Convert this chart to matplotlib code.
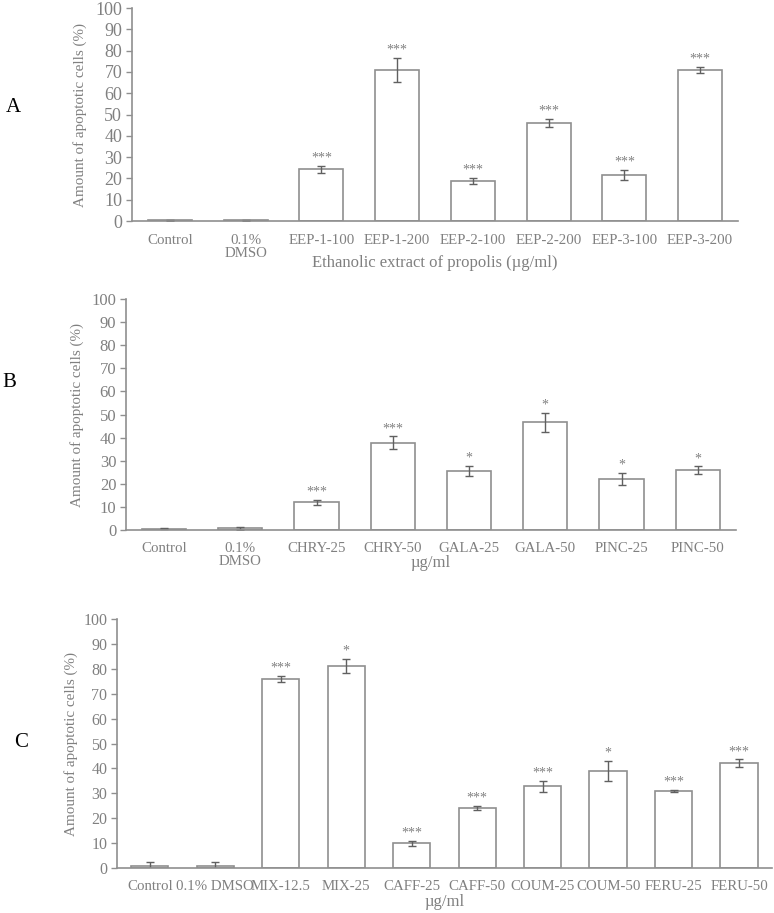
"""
Apoptotic cell fractions for propolis extracts and compounds (three panels).
"""

import matplotlib
matplotlib.use("Agg")
import matplotlib.pyplot as plt

plt.rcParams["font.family"] = ["Liberation Serif", "DejaVu Serif"]

TEXT = "#808080"
EDGE = "#8f8f8f"
ERR = "#606060"

# panel A: ethanolic extracts of propolis
cats_a = ["Control", "0.1%\nDMSO", "EEP-1-100", "EEP-1-200", "EEP-2-100",
          "EEP-2-200", "EEP-3-100", "EEP-3-200"]
vals_a = [0.4, 0.3, 24.3, 71.0, 18.8, 46.0, 21.6, 71.0]
errs_a = [0.3, 0.2, 1.7, 5.6, 1.6, 1.7, 2.3, 1.3]
stars_a = ["", "", "***", "***", "***", "***", "***", "***"]

# panel B: flavonoids
cats_b = ["Control", "0.1%\nDMSO", "CHRY-25", "CHRY-50", "GALA-25",
          "GALA-50", "PINC-25", "PINC-50"]
vals_b = [0.6, 0.7, 12.0, 37.8, 25.4, 46.6, 21.9, 25.8]
errs_b = [0.2, 0.5, 1.2, 2.7, 2.2, 4.0, 2.6, 1.7]
stars_b = ["", "", "***", "***", "*", "*", "*", "*"]

# panel C: phenolic acids and mixture
cats_c = ["Control", "0.1% DMSO", "MIX-12.5", "MIX-25", "CAFF-25", "CAFF-50",
          "COUM-25", "COUM-50", "FERU-25", "FERU-50"]
vals_c = [0.8, 0.8, 76.0, 81.1, 9.9, 24.0, 32.9, 39.0, 30.9, 42.0]
errs_c = [1.7, 1.5, 1.2, 2.8, 1.1, 0.9, 2.2, 4.0, 0.3, 1.6]
stars_c = ["", "", "***", "*", "***", "***", "***", "*", "***", "***"]


def draw_panel(ax, cats, vals, errs, stars, xlabel, label_y,
               width=0.58, ytick_size=12.5, xlabel_size=12, ylabel_pad=4):
    x = range(len(cats))
    ax.bar(x, vals, width=width, color="white", edgecolor=EDGE, linewidth=1.2)
    ax.errorbar(x, vals, yerr=errs, fmt="none", ecolor=ERR, elinewidth=1,
                capsize=3, capthick=1)
    for xi, v, e, s in zip(x, vals, errs, stars):
        if s:
            ax.annotate(s, (xi, v + e), xytext=(0, 1), textcoords="offset points",
                        ha="center", va="bottom", fontsize=10, color=TEXT)
    ax.set_xlim(-0.5, len(cats) - 0.5)
    ax.set_ylim(0, 100)
    ax.set_yticks(range(0, 101, 10))
    ax.set_xticks(list(x))
    ax.set_xticklabels(cats, fontsize=10.7, color=TEXT, linespacing=1.0)
    ax.tick_params(axis="x", length=0, pad=9)
    ax.tick_params(axis="y", length=4, width=1, color=EDGE,
                   labelsize=ytick_size, labelcolor=TEXT, pad=3)
    for side in ("top", "right"):
        ax.spines[side].set_visible(False)
    for side in ("left", "bottom"):
        ax.spines[side].set_color(EDGE)
        ax.spines[side].set_linewidth(1.2)
    ax.set_ylabel("Amount of apoptotic cells (%)", fontsize=10.9, color=TEXT,
                  labelpad=ylabel_pad)
    ax.set_xlabel(xlabel, fontsize=xlabel_size, color=TEXT)
    ax.xaxis.label.set_va("center")
    ax.xaxis.set_label_coords(0.5, label_y)


fig = plt.figure(figsize=(7.74, 9.13), dpi=100)
ax_a = fig.add_axes([0.1705, 0.7579, 0.783, 0.2333])
ax_b = fig.add_axes([0.1628, 0.4195, 0.788, 0.253])
ax_c = fig.add_axes([0.1512, 0.0493, 0.846, 0.2727])

draw_panel(ax_a, cats_a, vals_a, errs_a, stars_a,
           "Ethanolic extract of propolis (\u00b5g/ml)", -0.197,
           ytick_size=13, ylabel_pad=6)
draw_panel(ax_b, cats_b, vals_b, errs_b, stars_b, "\u00b5g/ml", -0.142,
           ytick_size=12, ylabel_pad=5)
draw_panel(ax_c, cats_c, vals_c, errs_c, stars_c, "\u00b5g/ml", -0.137,
           width=0.57, ytick_size=11.5)

fig.text(13 / 774, 1 - 108 / 913, "A", fontsize=15, ha="center", va="center")
fig.text(9 / 774, 1 - 382 / 913, "B", fontsize=15, ha="center", va="center")
fig.text(21 / 774, 1 - 742 / 913, "C", fontsize=15, ha="center", va="center")

fig.savefig("out.png", dpi=100)
